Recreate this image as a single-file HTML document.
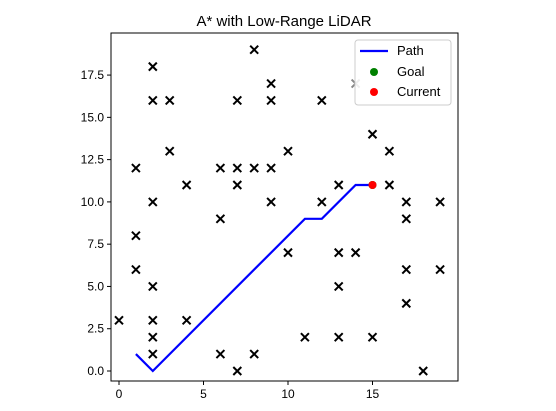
<!DOCTYPE html>
<html><head><meta charset="utf-8"><style>
html,body{margin:0;padding:0;background:#fff;}
svg text{font-family:"Liberation Sans","DejaVu Sans",sans-serif;}
</style></head><body>
<svg id="chart" width="556" height="406" xmlns="http://www.w3.org/2000/svg">
<text x="284" y="26" font-size="15" text-anchor="middle">A* with Low-Range LiDAR</text>
<g id="plot"></g>
</svg>
<script>
const obsX=[0,1,1,1,2,2,2,2,2,2,2,3,3,4,4,6,6,6,7,7,7,7,8,8,8,9,9,9,9,10,10,11,12,12,13,13,13,13,14,14,15,15,16,16,17,17,17,17,18,19,19];
const obsY=[3,12,8,6,18,16,10,5,3,2,1,16,13,11,3,12,9,1,16,12,11,0,19,12,1,17,16,12,10,13,7,2,16,10,11,7,5,2,17,7,14,2,13,11,10,9,6,4,0,10,6];
const pathX=[1,2,11,12,14,15];
const pathY=[1,0,9,9,11,11];
const goal=[15,11];
const current=[15,11];
const xTicks=[0,5,10,15];
const yTicks=[0,2.5,5,7.5,10,12.5,15,17.5];
const yTickLabels=["0.0","2.5","5.0","7.5","10.0","12.5","15.0","17.5"];

const L=111,R=458,T=33,B=381;
const sx=v=>119+v*16.9;
const sy=v=>371-v*16.91;
const NS="http://www.w3.org/2000/svg";
const g=document.getElementById('plot');
function mk(tag,attrs,parent){const e=document.createElementNS(NS,tag);for(const k in attrs)e.setAttribute(k,attrs[k]);(parent||g).appendChild(e);return e;}

// obstacles
obsX.forEach((x,i)=>{
  const cx=sx(x),cy=sy(obsY[i]),d=4;
  const p=mk('path',{d:`M${cx-d},${cy-d}L${cx+d},${cy+d}M${cx-d},${cy+d}L${cx+d},${cy-d}`,stroke:(x==14&&obsY[i]==17)?'#888':'#000','stroke-width':2});
  
  
});
// path
const pl=mk('polyline',{points:pathX.map((x,i)=>sx(x)+','+sy(pathY[i])).join(' '),fill:'none',stroke:'#0000ff','stroke-width':2.2});


const gc=mk('circle',{cx:sx(goal[0]),cy:sy(goal[1]),r:4,fill:'#008000'});


const cc=mk('circle',{cx:sx(current[0]),cy:sy(current[1]),r:4,fill:'#ff0000'});



// axes frame
const fr=mk('rect',{x:L,y:T,width:R-L,height:B-T,fill:'none',stroke:'#000','stroke-width':1});


xTicks.forEach(v=>{
  const x=sx(v);
  const t=mk('line',{x1:x,x2:x,y1:B,y2:B+4,stroke:'#000'});
  
  
  const l=mk('text',{x:x,y:B+17,'font-size':12,'text-anchor':'middle'});
  l.textContent=v;
  
  
});
yTicks.forEach((v,i)=>{
  const y=sy(v);
  const t=mk('line',{x1:L-4,x2:L,y1:y,y2:y,stroke:'#000'});
  
  
  const l=mk('text',{x:L-7,y:y+4,'font-size':12,'text-anchor':'end'});
  l.textContent=yTickLabels[i];
  
  
});

// legend
const lg=mk('g',{});


mk('rect',{x:355,y:40,width:96,height:65,rx:3,fill:'#fff','fill-opacity':0.85,stroke:'#ccc'},lg);
mk('line',{x1:360,x2:388,y1:51,y2:51,stroke:'#0000ff','stroke-width':2.2},lg);
mk('circle',{cx:374,cy:72,r:4,fill:'#008000'},lg);
mk('circle',{cx:374,cy:92,r:4,fill:'#ff0000'},lg);
[['Path',55],['Goal',76],['Current',96]].forEach(([s,y])=>{
  const t=mk('text',{x:397,y:y,'font-size':13},lg);t.textContent=s;
  
  
});
</script>
</body></html>
